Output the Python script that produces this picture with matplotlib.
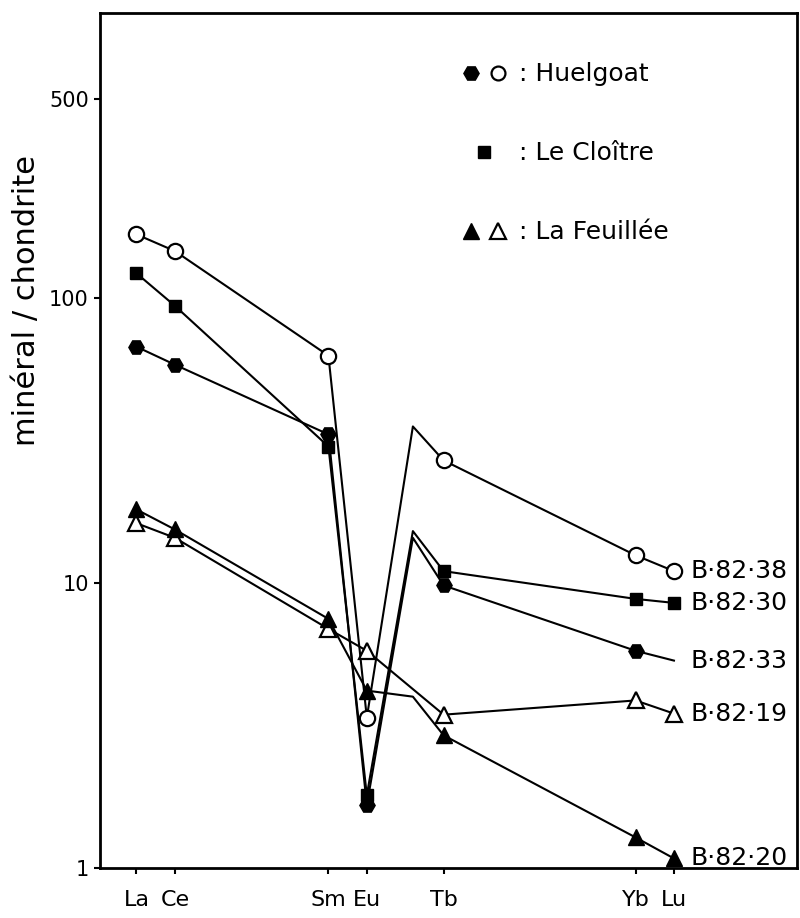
import numpy as np
import matplotlib
matplotlib.use("Agg")
import matplotlib.pyplot as plt
from matplotlib.lines import Line2D
from matplotlib.legend_handler import HandlerTuple

# REE pattern, normalised to chondrite
tick_elements = ["La", "Ce", "Sm", "Eu", "Tb", "Yb", "Lu"]
tick_z = [57, 58, 62, 63, 65, 70, 71]

# the drawn lines kink at Gd (no marker there)
z_with_gd = [57, 58, 62, 63, 64.2, 65, 70, 71]
z_no_gd = [57, 58, 62, 63, 65, 70, 71]

b82_38 = [167, 146, 62.7, 3.37, 35.4, 26.9, 12.5, 11.0]
b82_30 = [122, 93.8, 30.1, 1.80, 15.2, 11.0, 8.79, 8.51]
b82_33 = [67.4, 58.3, 33.2, 1.66, 14.4, 9.8, 5.78, 5.34]
b82_19 = [16.2, 14.4, 6.9, 5.78, 3.45, 3.87, 3.48]
b82_20 = [18.1, 15.4, 7.48, 4.19, 3.99, 2.92, 1.28, 1.08]

yticks = [1, 10, 100, 500]

fig = plt.figure(figsize=(8, 9.18), dpi=100)
ax = fig.add_axes([0.125, 0.0545, 0.871, 0.9315])

lw = 1.5
mk_gd = [0, 1, 2, 3, 5, 6, 7]

ax.plot(z_with_gd, b82_38, color="black", lw=lw, marker="o", ms=11,
        mfc="white", mec="black", mew=1.6, markevery=mk_gd)
ax.plot(z_with_gd, b82_30, color="black", lw=lw, marker="s", ms=8.5,
        mfc="black", mec="black", markevery=mk_gd)
ax.plot(z_with_gd, b82_33, color="black", lw=lw, marker="H", ms=11,
        mfc="black", mec="black", markevery=[0, 1, 2, 3, 5, 6])
ax.plot(z_no_gd, b82_19, color="black", lw=lw, marker="^", ms=12,
        mfc="white", mec="black", mew=1.6)
ax.plot(z_with_gd, b82_20, color="black", lw=lw, marker="^", ms=12,
        mfc="black", mec="black", markevery=mk_gd)

# sample names at the end of each line
for name, vals in [("B·82·38", b82_38), ("B·82·30", b82_30), ("B·82·33", b82_33),
                   ("B·82·19", b82_19), ("B·82·20", b82_20)]:
    ax.annotate(name, (71, vals[-1]), xytext=(12, 0), textcoords="offset points",
                ha="left", va="center", fontsize=18)

ax.set_yscale("log")
ax.set_ylim(1, 1000)
ax.set_xlim(56.05, 74.2)
ax.set_yticks(yticks)
ax.set_yticklabels([str(t) for t in yticks], fontsize=15)
ax.yaxis.set_minor_locator(matplotlib.ticker.NullLocator())
ax.set_xticks(tick_z)
ax.set_xticklabels(tick_elements, fontsize=16)
ax.tick_params(direction="out", length=4, width=1.5)
ax.tick_params(axis="x", pad=12)
ax.tick_params(axis="y", pad=4)

for s in ax.spines.values():
    s.set_linewidth(2)

ax.set_ylabel("minéral / chondrite", fontsize=22, va="center")
ax.yaxis.set_label_coords(-0.105, 0.664)

# legend keys
h_hex = Line2D([], [], ls="none", marker="H", ms=11, mfc="black", mec="black")
h_circ = Line2D([], [], ls="none", marker="o", ms=10, mfc="white", mec="black", mew=1.6)
h_sq = Line2D([], [], ls="none", marker="s", ms=8, mfc="black", mec="black")
h_tri = Line2D([], [], ls="none", marker="^", ms=11, mfc="black", mec="black")
h_otri = Line2D([], [], ls="none", marker="^", ms=11, mfc="white", mec="black", mew=1.6)

ax.legend([(h_hex, h_circ), h_sq, (h_tri, h_otri)],
          [": Huelgoat", ": Le Cloître", ": La Feuillée"],
          handler_map={tuple: HandlerTuple(ndivide=None, pad=0)},
          loc="upper left", bbox_to_anchor=(0.512, 0.942), frameon=False,
          fontsize=18, handlelength=2.2, handletextpad=0.3,
          labelspacing=2.2, borderpad=0, borderaxespad=0)

fig.savefig("out.png", dpi=100)
